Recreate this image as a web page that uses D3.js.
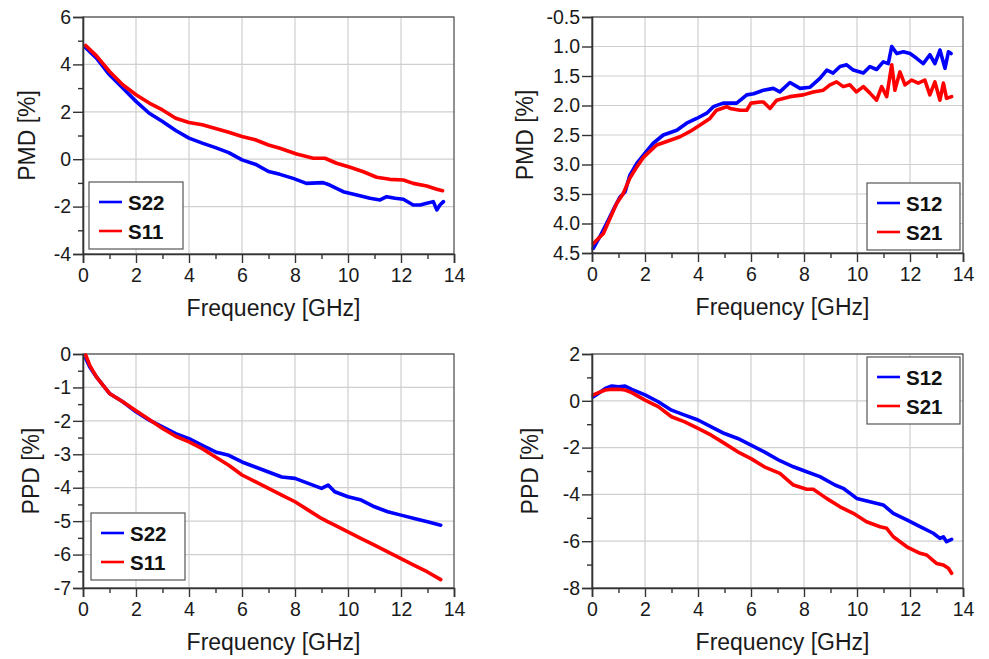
<!DOCTYPE html>
<html><head><meta charset="utf-8">
<script src="https://cdn.jsdelivr.net/npm/d3@7"></script>
<style>
html,body{margin:0;padding:0;background:#fff;}
svg{display:block;font-family:"Liberation Sans",Arial,sans-serif;}
</style></head>
<body>
<svg id="chart" width="989" height="659"></svg>
<script>
// ---------- DATA ----------
const xTicks = [0, 2, 4, 6, 8, 10, 12, 14];
const xTitle = "Frequency [GHz]";

// Panel 1: PMD reflection
const p1FreqS22 = [0.1,0.5,1,1.5,2,2.5,3,3.5,4,4.5,5,5.5,6,6.5,7,7.43,7.93,8.43,9.06,9.31,9.82,10.33,10.83,11.21,11.46,11.78,12.09,12.46,12.72,12.97,13.22,13.35,13.47,13.6];
const p1S22 = [4.7,4.27,3.56,3.0,2.44,1.94,1.59,1.21,0.89,0.68,0.49,0.28,-0.03,-0.21,-0.52,-0.64,-0.81,-1.02,-0.99,-1.09,-1.37,-1.51,-1.65,-1.72,-1.58,-1.65,-1.69,-1.93,-1.93,-1.86,-1.79,-2.14,-1.93,-1.79];
const p1FreqS11 = [0.1,0.5,1,1.5,2,2.5,3,3.5,4,4.5,5,5.5,6,6.5,7,7.43,8.06,8.69,9.13,9.57,10.08,10.58,11.08,11.58,12.09,12.46,12.97,13.35,13.57];
const p1S11 = [4.8,4.37,3.7,3.14,2.72,2.37,2.08,1.73,1.55,1.45,1.3,1.14,0.96,0.82,0.6,0.46,0.22,0.04,0.04,-0.17,-0.34,-0.53,-0.76,-0.85,-0.88,-1.02,-1.13,-1.27,-1.33];
const p1YTicks = [-4,-2,0,2,4,6];

// Panel 2: PMD transmission
const p2FreqS12 = [0.05,0.3,0.55,0.8,1.06,1.25,1.43,1.69,1.94,2.31,2.69,3.2,3.57,3.95,4.33,4.58,4.95,5.21,5.46,5.84,6.1,6.47,6.84,7.09,7.47,7.85,8.23,8.6,8.86,9.1,9.36,9.61,9.86,10.24,10.49,10.74,10.99,11.18,11.31,11.5,11.75,12.0,12.25,12.5,12.75,12.94,13.13,13.32,13.45,13.55];
const p2S12 = [4.42,4.22,4.0,3.77,3.55,3.46,3.18,2.98,2.84,2.64,2.5,2.42,2.3,2.22,2.13,2.02,1.96,1.96,1.96,1.82,1.8,1.74,1.71,1.77,1.61,1.71,1.69,1.54,1.4,1.45,1.34,1.31,1.4,1.45,1.34,1.39,1.26,1.29,1.0,1.12,1.09,1.12,1.2,1.29,1.14,1.29,1.06,1.37,1.09,1.12];
const p2FreqS21 = [0.05,0.43,0.68,0.93,1.18,1.43,1.69,1.94,2.44,2.82,3.32,3.7,4.08,4.45,4.7,5.08,5.21,5.58,5.84,6.0,6.34,6.47,6.72,6.97,7.47,7.97,8.35,8.73,8.98,9.23,9.48,9.73,9.98,10.24,10.49,10.74,10.93,11.12,11.31,11.43,11.62,11.81,12.06,12.31,12.56,12.75,12.94,13.13,13.26,13.38,13.57];
const p2S21 = [4.34,4.17,3.91,3.66,3.49,3.23,3.04,2.88,2.67,2.61,2.53,2.44,2.33,2.22,2.08,2.02,2.05,2.08,2.08,1.96,1.94,1.94,2.05,1.91,1.85,1.82,1.77,1.74,1.65,1.6,1.68,1.65,1.77,1.68,1.79,1.91,1.68,1.85,1.31,1.74,1.43,1.65,1.57,1.62,1.57,1.82,1.6,1.91,1.62,1.88,1.85];
const p2YTicks = [0.5,1.0,1.5,2.0,2.5,3.0,3.5,4.0,4.5];
const p2YLabels = ["-0.5","1.0","1.5","2.0","2.5","3.0","3.5","4.0","4.5"];

// Panel 3: PPD reflection
const p3Freq = [0.1,0.25,0.5,0.75,1,1.5,2,2.5,3,3.5,4,4.5,5,5.5,6,6.5,7,7.5,8,8.5,9,9.25,9.5,10,10.5,11,11.5,12,12.5,13,13.5];
const p3S22 = [-0.13,-0.38,-0.68,-0.93,-1.18,-1.43,-1.73,-1.98,-2.18,-2.38,-2.53,-2.73,-2.93,-3.03,-3.23,-3.38,-3.53,-3.68,-3.72,-3.87,-4.02,-3.92,-4.12,-4.27,-4.37,-4.57,-4.72,-4.82,-4.92,-5.02,-5.12];
const p3S11 = [-0.03,-0.33,-0.68,-0.93,-1.18,-1.43,-1.7,-1.96,-2.23,-2.46,-2.63,-2.83,-3.08,-3.33,-3.62,-3.82,-4.02,-4.22,-4.42,-4.67,-4.92,-5.02,-5.12,-5.32,-5.52,-5.72,-5.92,-6.12,-6.32,-6.52,-6.75];
const p3YTicks = [-7,-6,-5,-4,-3,-2,-1,0];

// Panel 4: PPD transmission
const p4FreqS12 = [0.05,0.25,0.5,0.75,1,1.25,1.5,2,2.5,3,3.5,4,4.5,5,5.5,6,6.5,7.09,7.6,8.1,8.6,9.17,9.48,9.99,10.49,10.99,11.37,11.88,12.38,12.88,13.13,13.26,13.38,13.57];
const p4S12 = [0.17,0.32,0.53,0.63,0.6,0.63,0.49,0.25,-0.04,-0.4,-0.61,-0.82,-1.11,-1.4,-1.61,-1.89,-2.18,-2.56,-2.82,-3.03,-3.24,-3.6,-3.74,-4.17,-4.31,-4.45,-4.81,-5.09,-5.38,-5.66,-5.88,-5.81,-6.02,-5.92];
const p4FreqS21 = [0.05,0.25,0.5,0.75,1,1.25,1.5,2,2.5,3,3.5,4,4.5,5,5.5,6,6.5,7.09,7.6,8.1,8.35,8.85,9.36,9.86,10.36,10.87,11.12,11.37,11.88,12.38,12.63,13.0,13.26,13.45,13.57];
const p4S21 = [0.25,0.35,0.46,0.49,0.49,0.46,0.35,0.03,-0.25,-0.68,-0.9,-1.18,-1.47,-1.82,-2.18,-2.47,-2.82,-3.1,-3.6,-3.78,-3.78,-4.17,-4.53,-4.81,-5.17,-5.38,-5.45,-5.81,-6.24,-6.52,-6.59,-6.95,-7.02,-7.16,-7.37];
const p4YTicks = [-8,-6,-4,-2,0,2];

const blue = "#0000ff", red = "#ff0000";

// ---------- DRAW ----------
const svg = d3.select("#chart");
const fmtInt = d => String(d); // plain hyphen-minus as in the reference

function drawPanel(cfg) {
  const x = d3.scaleLinear().domain([0, 14]).range([cfg.left, cfg.right]);
  const y = d3.scaleLinear().domain(cfg.yDomain).range(cfg.yRange);
  const g = svg.append("g");

  // grid
  g.selectAll(".vg").data(xTicks.filter(d => d > 0 && d < 14)).enter().append("line")
    .attr("x1", d => x(d)).attr("x2", d => x(d))
    .attr("y1", cfg.top).attr("y2", cfg.bottom)
    .attr("stroke", "#cfcfcf").attr("stroke-width", 1.2);
  g.selectAll(".hg").data(cfg.yTicks).enter().append("line")
    .attr("x1", cfg.left).attr("x2", cfg.right)
    .attr("y1", d => y(d)).attr("y2", d => y(d))
    .attr("stroke", "#cfcfcf").attr("stroke-width", 1.2);

  // frame
  g.append("rect").attr("x", cfg.left).attr("y", cfg.top)
    .attr("width", cfg.right - cfg.left).attr("height", cfg.bottom - cfg.top)
    .attr("fill", "none").attr("stroke", "#555").attr("stroke-width", 1.3);

  // data lines
  const line = d3.line().x(d => x(d[0])).y(d => y(d[1]));
  cfg.series.forEach(s => {
    g.append("path").datum(s.freq.map((f, i) => [f, s.vals[i]]))
      .attr("d", line).attr("fill", "none")
      .attr("stroke", s.color).attr("stroke-width", 3.6)
      .attr("stroke-linejoin", "round").attr("stroke-linecap", "round");
  });

  // x axis
  const xAxis = d3.axisBottom(x).tickValues(xTicks).tickSize(9).tickPadding(4).tickFormat(fmtInt);
  const gx = g.append("g").attr("transform", `translate(0,${cfg.bottom})`).call(xAxis);
  const gxm = g.append("g").attr("transform", `translate(0,${cfg.bottom})`)
    .call(d3.axisBottom(x).tickValues(d3.range(1, 14, 2)).tickSize(5).tickFormat(""));
  gxm.select(".domain").remove();

  // y axis
  const yAxis = d3.axisLeft(y).tickValues(cfg.yTicks).tickSize(10).tickPadding(2)
    .tickFormat((d, i) => cfg.yLabels ? cfg.yLabels[i] : fmtInt(d));
  const gy = g.append("g").attr("transform", `translate(${cfg.left},0)`).call(yAxis);
  if (cfg.yMinor) {
    const gym = g.append("g").attr("transform", `translate(${cfg.left},0)`)
      .call(d3.axisLeft(y).tickValues(cfg.yMinor).tickSize(5).tickFormat(""));
    gym.select(".domain").remove();
  }
  [gx, gy].forEach(a => {
    a.selectAll("path.domain").attr("stroke", "#333").attr("stroke-width", 1.6);
    a.selectAll(".tick text").attr("font-size", 19.5).attr("fill", "#1a1a1a")
      .attr("font-family", "Liberation Sans, Arial, sans-serif");
  });
  g.selectAll(".tick line").attr("stroke", "#333").attr("stroke-width", 1.4);
  gx.selectAll(".tick text").attr("dy", "0.78em");

  // titles
  g.append("text").attr("x", (cfg.left + cfg.right) / 2 + 5).attr("y", cfg.bottom + 62)
    .attr("text-anchor", "middle").attr("font-size", 23).attr("fill", "#1a1a1a").text(xTitle);
  g.append("text")
    .attr("transform", `translate(${cfg.left - cfg.yTitleOff},${(cfg.top + cfg.bottom) / 2}) rotate(-90)`)
    .attr("text-anchor", "middle").attr("font-size", 23).attr("fill", "#1a1a1a").text(cfg.yTitle);

  // legend
  const L = cfg.legend;
  g.append("rect").attr("x", L.x).attr("y", L.y).attr("width", L.w).attr("height", L.h)
    .attr("fill", "#fff").attr("stroke", "#555").attr("stroke-width", 1.2);
  cfg.series.forEach((s, i) => {
    const cy = L.y + 20 + i * 29;
    g.append("line").attr("x1", L.x + 10).attr("x2", L.x + 33).attr("y1", cy).attr("y2", cy)
      .attr("stroke", s.color).attr("stroke-width", 2.6);
    g.append("text").attr("x", L.x + 39).attr("y", cy + 7.5)
      .attr("font-size", 20.5).attr("font-weight", "bold").attr("fill", "#111").text(s.name);
  });
}

drawPanel({
  left: 83, right: 454, top: 17, bottom: 254,
  yDomain: [-4, 6], yRange: [254, 17], yTicks: p1YTicks, yMinor: [-3,-1,1,3,5],
  yTitle: "PMD [%]", yTitleOff: 48,
  series: [{name: "S22", freq: p1FreqS22, vals: p1S22, color: blue}, {name: "S11", freq: p1FreqS11, vals: p1S11, color: red}],
  legend: {x: 89, y: 182, w: 94, h: 67}
});
drawPanel({
  left: 592, right: 963, top: 17, bottom: 253,
  yDomain: [0.5, 4.5], yRange: [17, 253], yTicks: p2YTicks, yLabels: p2YLabels,
  yTitle: "PMD [%]", yTitleOff: 59,
  series: [{name: "S12", freq: p2FreqS12, vals: p2S12, color: blue}, {name: "S21", freq: p2FreqS21, vals: p2S21, color: red}],
  legend: {x: 867, y: 183, w: 93, h: 67}
});
drawPanel({
  left: 83, right: 454, top: 354, bottom: 588,
  yDomain: [-7, 0], yRange: [588, 354], yTicks: p3YTicks, yMinor: [-6.5,-5.5,-4.5,-3.5,-2.5,-1.5,-0.5],
  yTitle: "PPD [%]", yTitleOff: 44,
  series: [{name: "S22", freq: p3Freq, vals: p3S22, color: blue}, {name: "S11", freq: p3Freq, vals: p3S11, color: red}],
  legend: {x: 91, y: 513, w: 94, h: 67}
});
drawPanel({
  left: 592, right: 963, top: 354, bottom: 588,
  yDomain: [-8, 2], yRange: [588, 354], yTicks: p4YTicks, yMinor: [-7,-5,-3,-1,1],
  yTitle: "PPD [%]", yTitleOff: 54,
  series: [{name: "S12", freq: p4FreqS12, vals: p4S12, color: blue}, {name: "S21", freq: p4FreqS21, vals: p4S21, color: red}],
  legend: {x: 867, y: 357, w: 93, h: 67}
});
</script>
</body></html>
